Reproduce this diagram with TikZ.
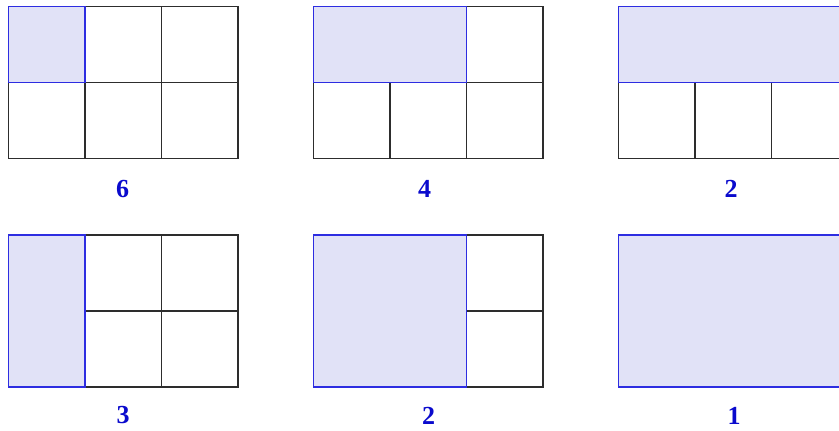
\documentclass[tikz,border=0pt]{standalone}
\usepackage{fontspec}
\setmainfont{Liberation Serif}
\definecolor{gridline}{RGB}{45,45,45}
\definecolor{shadefill}{RGB}{225,226,247}
\definecolor{shadeline}{RGB}{45,45,225}
\definecolor{numblue}{RGB}{10,10,205}
\tikzset{
  cellbox/.style={draw=gridline, line width=1.6pt},
  shadebox/.style={fill=shadefill, draw=shadeline, line width=1.6pt},
  numlabel/.style={text=numblue, font=\fontsize{26}{26}\selectfont\bfseries, inner sep=0pt}
}
\begin{document}
\begin{tikzpicture}[x=1pt,y=-1pt]
\useasboundingbox (0,0) rectangle (839,431);
% cells of all six grids
\foreach \gx in {8.5,313.5,618.5}{
  \foreach \gy in {6.5,235}{
    \foreach \i in {0,1,2}{
      \foreach \j in {0,1}{
        \draw[cellbox] (\gx+76.5*\i,\gy+76*\j) rectangle (\gx+76.5*\i+76.5,\gy+76*\j+76);
      }
    }
  }
}
% shaded regions
\draw[shadebox] (8.5,6.5) rectangle (85,82.5);
\draw[shadebox] (313.5,6.5) rectangle (466.5,82.5);
\draw[shadebox] (618.5,6.5) rectangle (848,82.5);
\draw[shadebox] (8.5,235) rectangle (85,387);
\draw[shadebox] (313.5,235) rectangle (466.5,387);
\draw[shadebox] (618.5,235) rectangle (848,387);
% labels
\node[numlabel] (n6) at (122.5,189) {6};
\node[numlabel] (n4) at (424.5,189) {4};
\node[numlabel] (n2a) at (731,189) {2};
\node[numlabel] (n3) at (123,415.5) {3};
\node[numlabel] (n2b) at (428.5,415.5) {2};
\node[numlabel] (n1) at (734,415.5) {1};
\end{tikzpicture}
\end{document}
